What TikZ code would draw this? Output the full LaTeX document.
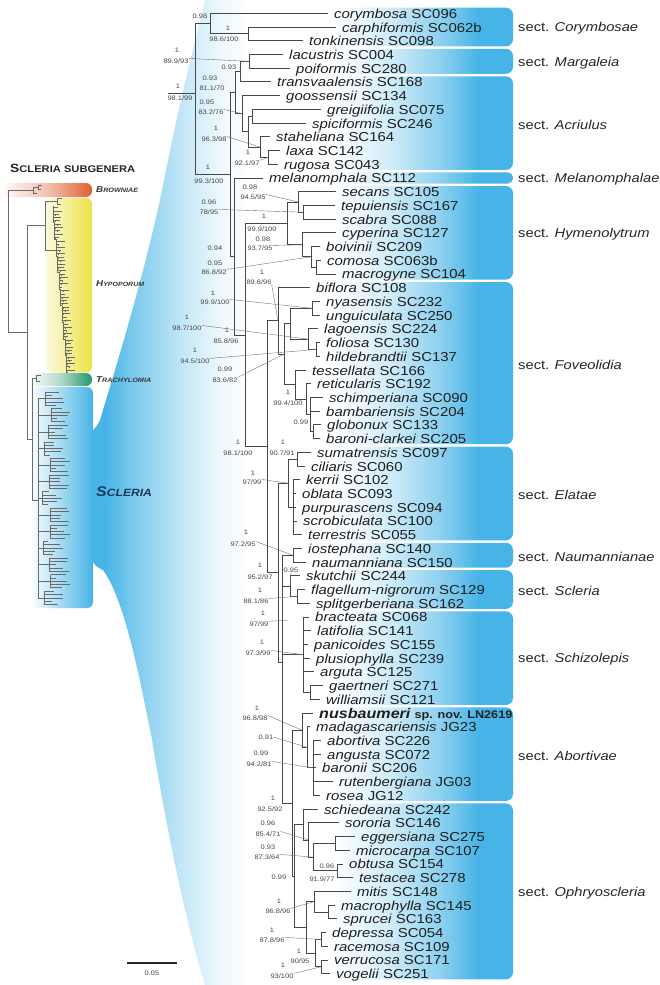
\documentclass[tikz,border=0pt]{standalone}
\usepackage{fontspec}
\setmainfont{Liberation Sans}[FakeStretch=1.15]
\usetikzlibrary{calc}
\definecolor{sblue}{RGB}{70,180,230}
\definecolor{orng}{RGB}{222,96,50}
\definecolor{yllw}{RGB}{236,226,70}
\definecolor{grn}{RGB}{36,150,108}
\definecolor{navy}{RGB}{28,56,88}
\definecolor{treecol}{RGB}{72,72,72}
\pgfdeclarehorizontalshading{secshade}{100bp}{color(0bp)=(white); color(33bp)=(white); color(46bp)=(sblue!25!white); color(58bp)=(sblue!62!white); color(67bp)=(sblue); color(100bp)=(sblue)}
\pgfdeclarehorizontalshading{funshade}{100bp}{color(0bp)=(sblue); color(27.6bp)=(sblue); color(35.5bp)=(sblue!65!white); color(45.4bp)=(sblue!30!white); color(53bp)=(sblue!10!white); color(59.6bp)=(white); color(100bp)=(white)}
\pgfmathdeclarefunction{ly}{1}{\pgfmathparse{13.3+13.72*(#1-1)}}
\begin{document}
\begin{tikzpicture}[x=1pt,y=-1pt,
  br/.style={draw=treecol,line width=0.85pt},
  leaf/.style={anchor=west,inner xsep=6pt,inner ysep=0pt,text height=10pt,text depth=0pt,font=\fontsize{13}{13}\selectfont,text=black!88},
  sup/.style={inner sep=0pt,font=\fontsize{6.5}{6.5}\selectfont,text=black!72},
  lead/.style={draw=black!55,line width=0.4pt},
  secl/.style={anchor=west,inner sep=0pt,font=\fontsize{12.8}{12.8}\selectfont,text=black!85},
  mini/.style={draw=black!58,line width=0.4pt},
  subl/.style={anchor=west,inner sep=0pt,text=black!78}]
\useasboundingbox (0,0) rectangle (660,985);
\fill[white] (0,0) rectangle (660,985);

% ---------- funnel ----------
\path[shading=funshade] (320,0) -- (205,0) .. controls (180,100) and (170,150) .. (160,200)
  .. controls (140,290) and (115,370) .. (100,420) .. controls (98,426) and (94,428) .. (92,432)
  -- (92,558) .. controls (93,565) and (97,567) .. (103,570)
  .. controls (125,600) and (140,680) .. (152,740) .. controls (165,820) and (185,920) .. (205,985)
  -- (320,985) -- cycle;

% ---------- left subgenus boxes ----------
\path[left color=orng!5!white,right color=orng,middle color=orng!40!white,rounded corners=6pt] (5,183) rectangle (92,197);
\path[left color=yllw!18!white,right color=yllw,rounded corners=6pt] (46,198) rectangle (92,372.5);
\path[left color=white,right color=grn,middle color=grn!35!white,rounded corners=6pt] (28,373) rectangle (92,386);
\path[left color=white,right color=sblue,rounded corners=6pt] (30,387) rectangle (93,608);

% ---------- section boxes ----------
\foreach \a/\b/\nm in {1/3/Corymbosae,4/5/Margaleia,6/12/Acriulus,13/13/Melanomphalae,14/20/Hymenolytrum,21/32/Foveolidia,33/39/Elatae,40/41/Naumannianae,42/44/Scleria,45/51/Schizolepis,52/58/Abortivae,59/71/Ophryoscleria}{
  \pgfmathsetmacro\rr{min(7,(ly(\b)-ly(\a)+11.2)/2-0.4)}
  \path[shading=secshade,rounded corners=\rr pt] (300,{ly(\a)-5.6}) rectangle (513,{ly(\b)+5.6});
  \node[secl] (sec\a) at (518,{(ly(\a)+ly(\b))/2+1.5}) {sect. \textit{\nm}};
}

% ---------- mini tree (left) ----------
\draw[mini] (8,190) -- (8,332) (8,190) -- (33,190);
\draw[mini] (33,187) -- (33,193) (33,187) -- (38,187) (33,193) -- (37,193) (38,185) -- (38,189) (38,185) -- (42,185) (38,189) -- (41,189);
\draw[mini] (8,332) -- (27,332) (27,225) -- (27,439) (27,225) -- (45,225) (45,201) -- (45,250);
\draw[mini] (45,201) -- (57,201) (57,198) -- (57,204) (57,198) -- (62,198) (57,204) -- (61,204) (45,250) -- (56,250);
\foreach \g in {0,...,9}{
  \pgfmathsetmacro\ya{206+\g*16.6}
  \pgfmathsetmacro\gx{53+\g*1.5}
  \draw[mini] (\gx,\ya) -- (\gx,\ya+16.6) -- (\gx+1.5,\ya+16.6);
  \foreach \k in {0,...,4}{
    \pgfmathsetmacro\yy{\ya+1.6+\k*3.2}
    \pgfmathsetmacro\tl{3+6*abs(sin(97*(\g*5+\k)+15))}
    \pgfmathsetmacro\sx{\gx+3*abs(sin(61*(\g*5+\k)))}
    \draw[mini] (\gx,\yy) -- ++(\tl,0);
    \draw[mini] (\sx,\yy) -- ++(0,1.6);
  }
}
\draw[mini] (27,439) -- (32,439) (32,378) -- (32,500) (32,378) -- (36,378) (36,375) -- (36,381) (36,375) -- (41,375) (36,381) -- (40,381) (32,500) -- (38,500) (38,398) -- (38,598);
\foreach \g in {0,...,12}{
  \pgfmathsetmacro\ya{391+\g*16.6}
  \pgfmathsetmacro\gx{42+9*abs(sin(57*\g+20))}
  \draw[mini] (38,\ya+7.5) -- (\gx,\ya+7.5) (\gx,\ya+1) -- (\gx,\ya+14);
  \foreach \k in {0,...,4}{
    \pgfmathsetmacro\yy{\ya+1+\k*3.25}
    \pgfmathsetmacro\tl{4+16*abs(sin(131*(\g*5+\k)+40))}
    \draw[mini] (\gx,\yy) -- ++(\tl,0);
  }
}

% ---------- left labels ----------
\node[subl,text=black!85] (hdr) at (10,168) {\bfseries{\fontsize{12}{12}\selectfont S}{\fontsize{9.7}{9.7}\selectfont CLERIA SUBGENERA}};
\node[subl] (lbBr) at (96,190) {\bfseries\itshape{\fontsize{8.5}{8.5}\selectfont B}{\fontsize{6.3}{6.3}\selectfont ROWNIAE}};
\node[subl] (lbHy) at (96,284) {\bfseries\itshape{\fontsize{8.5}{8.5}\selectfont H}{\fontsize{6.1}{6.1}\selectfont YPOPORUM}};
\node[subl] (lbTr) at (96,380) {\bfseries\itshape{\fontsize{8.5}{8.5}\selectfont T}{\fontsize{6.3}{6.3}\selectfont RACHYLOMIA}};
\node[subl,text=navy] (lbSc) at (96,492) {\bfseries\itshape{\fontsize{14}{14}\selectfont S}{\fontsize{10.5}{10.5}\selectfont CLERIA}};

% ---------- leaves ----------
\foreach \i/\tx/\nm/\cd in {1/328/corymbosa/SC096,2/336/carphiformis/SC062b,3/303/tonkinensis/SC098,4/283/lacustris/SC004,5/290/poiformis/SC280,6/271/transvaalensis/SC168,7/280/goossensii/SC134,8/321/greigiifolia/SC075,9/306/spiciformis/SC246,10/270/staheliana/SC164,11/280/laxa/SC142,12/278/rugosa/SC043,13/263/melanomphala/SC112,14/336/secans/SC105,15/335/tepuiensis/SC167,16/336/scabra/SC088,17/336/cyperina/SC127,18/320/boivinii/SC209,19/321/comosa/SC063b,20/336/macrogyne/SC104,21/310/biflora/SC108,22/320/nyasensis/SC232,23/320/unguiculata/SC250,24/318/lagoensis/SC224,25/320/foliosa/SC130,26/320/hildebrandtii/SC137,27/306/tessellata/SC166,28/311/reticularis/SC192,29/323/schimperiana/SC090,30/320/bambariensis/SC204,31/321/globonux/SC133,32/320/baroni-clarkei/SC205,33/311/sumatrensis/SC097,34/305/ciliaris/SC060,35/300/kerrii/SC102,36/296/oblata/SC093,37/296/purpurascens/SC094,38/297/scrobiculata/SC100,39/302/terrestris/SC055,40/302/iostephana/SC140,41/306/naumanniana/SC150,42/300/skutchii/SC244,43/305/flagellum-nigrorum/SC129,44/310/splitgerberiana/SC162,45/309/bracteata/SC068,46/311/latifolia/SC141,47/308/panicoides/SC155,48/310/plusiophylla/SC239,49/314/arguta/SC125,50/323/gaertneri/SC271,51/320/williamsii/SC121,53/310/madagascariensis/JG23,54/321/abortiva/SC226,55/321/angusta/SC072,56/316/baronii/SC206,57/333/rutenbergiana/JG03,58/320/rosea/JG12,59/318/schiedeana/SC242,60/339/sororia/SC146,61/355/eggersiana/SC275,62/350/microcarpa/SC107,63/343/obtusa/SC154,64/353/testacea/SC278,65/351/mitis/SC148,66/335/macrophylla/SC145,67/337/sprucei/SC163,68/326/depressa/SC054,69/328/racemosa/SC109,70/328/verrucosa/SC171,71/330/vogelii/SC251}{
  \node[leaf] (l\i) at (\tx,{ly(\i)}) {\textit{\nm} \cd};
}
\node[leaf] (l52) at (313,{ly(52)}) {{\fontsize{14}{14}\selectfont\bfseries\itshape nusbaumeri} {\fontsize{11}{11}\selectfont\bfseries sp. nov. LN2619}};

% ---------- internal nodes ----------
\coordinate (root0) at (168,93);
\coordinate (V1) at (195,93);
\coordinate (Y) at (230,174.55);
\coordinate (Q) at (234,256.5);
\coordinate (R) at (245,335.07);
\coordinate (F0) at (267,446.75);
\coordinate (G) at (278,572.6);
\coordinate (K2) at (282,662);
\coordinate (zT) at (288,620);
\foreach \n/\x/\k in {cC/210/1.75,cCT/248/2.5,mM3/235/6.78,mM2/240/5.25,mLP/249/4.5,aA3/242/8.3125,aA2/248/9.625,aGS/252/8.5,aS1/260/10.75,aLR/268/11.5,hST/298/14.75,hTS/303/15.5,hCy/302/17.875,hBC/311/18.75,hCM/316/19.5,H1/287/16.3125,fF/278/23.42,fG/284/25.84,fD/290/23.625,fNU/312/22.5,fLF/308/24.75,fFH/316/25.5,fT4/295/28.0625,fT3/306/29.125,fT2/310/30.25,fGB/313/31.5,eE1/288/35.25,eSC/297/33.5,eK/293/37,nN/293/40.5,sSk/290/42.75,sFS/297/43.5,zS0/303/47.75,zGW/310/50.5,bA0/302/53.25,bA1/307/54.5,bA2/313/56,AO/292/58.5625,O1/294/63.875,oE/303/60.125,oD/308/61.25,oC/313/62.5,oEM/335/61.5,oOT/337/63.5,oMD/306/67.625,oMi/314/65.75,oMS/328/66.5,oDe/315/69.5,oDR/321/68.5,oVV/321/70.5}{
  \coordinate (\n) at (\x,{ly(\k)});
}

% ---------- branches ----------
\draw[br] (root0) -- (V1);
\foreach \p/\c in {V1/cC,V1/Y,cC/l1.west,cC/cCT,cCT/l2.west,cCT/l3.west,
  Y/mM3,Y/Q,mM3/mM2,mM3/aA3,mM2/mLP,mM2/l6.west,mLP/l4.west,mLP/l5.west,
  aA3/l7.west,aA3/aA2,aA2/aGS,aA2/aS1,aGS/l8.west,aGS/l9.west,aS1/l10.west,aS1/aLR,aLR/l11.west,aLR/l12.west,
  Q/l13.west,Q/R,R/H1,R/F0,
  H1/hST,H1/hCy,hST/l14.west,hST/hTS,hTS/l15.west,hTS/l16.west,hCy/l17.west,hCy/hBC,hBC/l18.west,hBC/hCM,hCM/l19.west,hCM/l20.west,
  F0/fF,F0/G,fF/l21.west,fF/fG,fG/fD,fG/fT4,fD/fNU,fD/fLF,fNU/l22.west,fNU/l23.west,fLF/l24.west,fLF/fFH,fFH/l25.west,fFH/l26.west,
  fT4/l27.west,fT4/fT3,fT3/l28.west,fT3/fT2,fT2/l29.west,fT2/l30.west,fT2/fGB,fGB/l31.west,fGB/l32.west,
  G/eE1,G/K2,eE1/eSC,eE1/eK,eSC/l33.west,eSC/l34.west,eK/l35.west,eK/l36.west,eK/l37.west,eK/l38.west,eK/l39.west,
  K2/nN,K2/sSk,K2/zS0,K2/AO,nN/l40.west,nN/l41.west,sSk/l42.west,sSk/sFS,sFS/l43.west,sFS/l44.west,
  zS0/l45.west,zS0/l46.west,zS0/l47.west,zS0/l48.west,zS0/l49.west,zS0/zGW,zGW/l50.west,zGW/l51.west,
  AO/bA0,AO/O1,bA0/l52.west,bA0/bA1,bA1/l53.west,bA1/bA2,bA2/l54.west,bA2/l55.west,bA2/l56.west,bA2/l57.west,bA2/l58.west,
  O1/oE,O1/oMD,oE/l59.west,oE/oD,oD/l60.west,oD/oC,oC/oEM,oC/oOT,oEM/l61.west,oEM/l62.west,oOT/l63.west,oOT/l64.west,
  oMD/oMi,oMD/oDe,oMi/l65.west,oMi/oMS,oMS/l66.west,oMS/l67.west,oDe/oDR,oDe/oVV,oDR/l68.west,oDR/l69.west,oVV/l70.west,oVV/l71.west}{
  \draw[br] (\p) |- (\c);
}

% ---------- support values ----------
\node[sup] (t01) at (200,16) {0.98};
\node[sup] (t02) at (228,28) {1}; \node[sup] (t02b) at (224,39) {98.6/100};
\node[sup] (t03) at (177,50) {1}; \node[sup] (t03b) at (176,61) {89.9/93};
\node[sup] (t04) at (229,67) {0.93};
\node[sup] (t05) at (210,78) {0.93}; \node[sup] (t05b) at (212,88) {81.1/70};
\node[sup] (t06) at (178,86) {1}; \node[sup] (t06b) at (180,98) {98.1/99};
\node[sup] (t07) at (207,102) {0.95}; \node[sup] (t07b) at (211,112) {83.2/76};
\node[sup] (t08) at (216,128) {1}; \node[sup] (t08b) at (214,139) {96.3/98};
\node[sup] (t09) at (248,152) {1}; \node[sup] (t09b) at (247,163) {92.1/97};
\node[sup] (t10) at (208,167) {1}; \node[sup] (t10b) at (209,181) {99.3/100};
\node[sup] (t11) at (250,187) {0.98}; \node[sup] (t11b) at (253,197) {94.5/95};
\node[sup] (t12) at (209,202) {0.96}; \node[sup] (t12b) at (209,212) {78/95};
\node[sup] (t13) at (264,216) {1}; \node[sup] (t13b) at (262,229) {99.9/100};
\node[sup] (t14) at (263,239) {0.98}; \node[sup] (t14b) at (260,248) {93.7/95};
\node[sup] (t15) at (215,248) {0.94};
\node[sup] (t16) at (215,263) {0.95}; \node[sup] (t16b) at (214,272) {86.8/92};
\node[sup] (t17) at (262,272) {1}; \node[sup] (t17b) at (259,282) {89.8/96};
\node[sup] (t18) at (213,293) {1}; \node[sup] (t18b) at (215,302) {99.9/100};
\node[sup] (t19) at (187,317) {1}; \node[sup] (t19b) at (187,328) {98.7/100};
\node[sup] (t20) at (227,330) {1}; \node[sup] (t20b) at (226,341) {85.8/96};
\node[sup] (t21) at (195,350) {1}; \node[sup] (t21b) at (195,361) {94.5/100};
\node[sup] (t22) at (225,369) {0.99}; \node[sup] (t22b) at (225,380) {83.6/82};
\node[sup] (t23) at (288,392) {1}; \node[sup] (t23b) at (288,403) {99.4/100};
\node[sup] (t24) at (301,422) {0.99};
\node[sup] (t25) at (238,442) {1}; \node[sup] (t25b) at (238,453) {98.1/100};
\node[sup] (t26) at (283,442) {1}; \node[sup] (t26b) at (282,453) {90.7/91};
\node[sup] (t27) at (253,473) {1}; \node[sup] (t27b) at (252,482) {97/99};
\node[sup] (t28) at (246,532) {1}; \node[sup] (t28b) at (243,544) {97.2/95};
\node[sup] (t29) at (260,565) {1}; \node[sup] (t29b) at (260,577) {95.2/97};
\node[sup] (t30) at (291,570) {0.95};
\node[sup] (t31) at (260,590) {1}; \node[sup] (t31b) at (256,601) {88.1/86};
\node[sup] (t32) at (263,613) {1}; \node[sup] (t32b) at (259,624) {97/99};
\node[sup] (t33) at (262,642) {1}; \node[sup] (t33b) at (258,653) {97.3/99};
\node[sup] (t34) at (257,708) {1}; \node[sup] (t34b) at (255,718) {96.8/98};
\node[sup] (t35) at (266,737) {0.91};
\node[sup] (t36) at (261,753) {0.99}; \node[sup] (t36b) at (259,764) {94.2/81};
\node[sup] (t37) at (273,798) {1}; \node[sup] (t37b) at (270,809) {92.5/92};
\node[sup] (t38) at (268,823) {0.96}; \node[sup] (t38b) at (268,834) {85.4/71};
\node[sup] (t39) at (268,847) {0.93}; \node[sup] (t39b) at (267,857) {87.3/64};
\node[sup] (t40) at (279,877) {0.99};
\node[sup] (t41) at (327,866) {0.96}; \node[sup] (t41b) at (322,879) {91.9/77};
\node[sup] (t42) at (279,901) {1}; \node[sup] (t42b) at (278,911) {96.8/96};
\node[sup] (t43) at (272,930) {1}; \node[sup] (t43b) at (272,940) {87.8/96};
\node[sup] (t44) at (299,951) {1}; \node[sup] (t44b) at (300,961) {90/95};
\node[sup] (t45) at (283,965) {1}; \node[sup] (t45b) at (282,976) {93/100};

% ---------- leader lines ----------
\foreach \s/\n in {t03b/mLP,t07b/aA3,t08b/aS1,t09b/aLR,t11b/hST,t12b/hTS,t14b/hCy,t16b/hBC,t18b/fNU,t19b/fLF,t21b/fFH,t22b/fG,t27b/eE1,t28b/nN,t31b/sFS,t32b/zT,t33b/zS0,t34b/bA0,t36b/bA2,t38b/oD,t39b/oC,t42b/oMi,t43b/oDR,t45b/oVV}{
  \draw[lead] (\s.north east) -- (\n);
}
\draw[lead] (t17b.south east) -- (fF);
\draw[lead] (t35.east) -- (bA1);
\draw[lead] (t30.south) -- (sSk);

% ---------- scale bar ----------
\coordinate (sbA) at (127,963);
\coordinate (sbB) at (177,963);
\draw[line width=1.1pt,black!85] (sbA) -- (sbB);
\node[sup] (sbl) at (152,973) {0.05};
\end{tikzpicture}
\end{document}
